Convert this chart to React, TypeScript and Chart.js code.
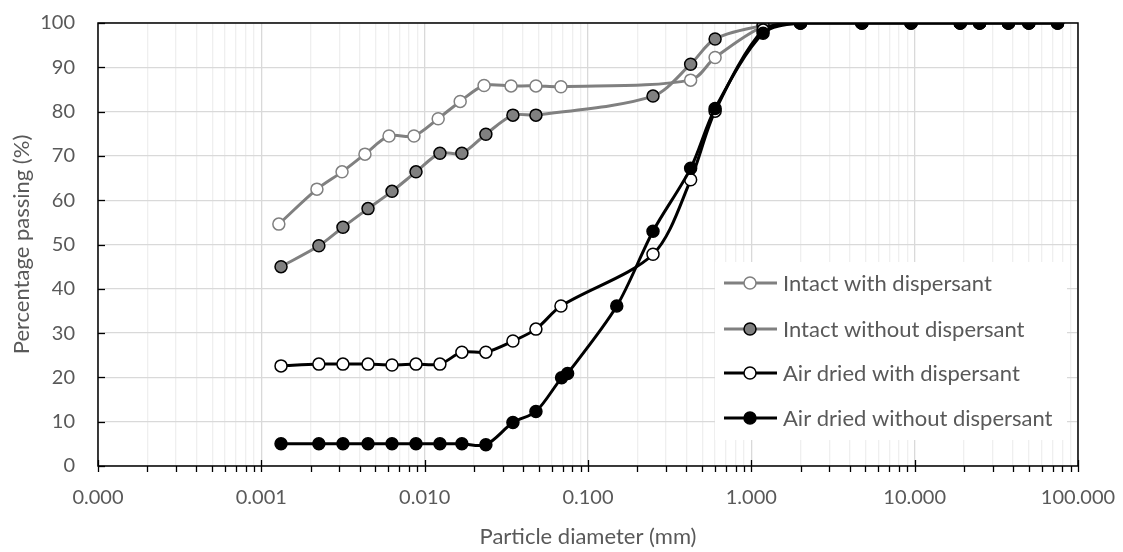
import React, { useEffect, useRef } from 'react';
import { Chart, registerables } from 'chart.js';

Chart.register(...registerables);

// ---------- DATA ----------
const seriesNames = [
  'Intact with dispersant',
  'Intact without dispersant',
  'Air dried with dispersant',
  'Air dried without dispersant',
];

// Intact with dispersant
const intactWithX = [0.00128, 0.00219, 0.00312, 0.00431, 0.00605, 0.0086, 0.0121, 0.0165, 0.0231, 0.0338, 0.048, 0.0683, 0.425, 0.6, 1.18, 2, 4.75, 9.5, 19, 25, 37.5, 50, 75];
const intactWithY = [54.6, 62.5, 66.4, 70.4, 74.5, 74.5, 78.4, 82.3, 85.9, 85.8, 85.8, 85.6, 87.1, 92.2, 99.2, 100, 100, 100, 100, 100, 100, 100, 100];

// Intact without dispersant
const intactWithoutX = [0.00132, 0.00225, 0.00316, 0.0045, 0.00631, 0.00885, 0.0124, 0.0169, 0.0237, 0.0347, 0.048, 0.25, 0.425, 0.6, 1.18, 2, 4.75, 9.5, 19, 25, 37.5, 50, 75];
const intactWithoutY = [45.0, 49.7, 53.9, 58.1, 62.0, 66.4, 70.6, 70.6, 74.9, 79.2, 79.2, 83.5, 90.7, 96.4, 99.4, 100, 100, 100, 100, 100, 100, 100, 100];

// Air dried with dispersant
const airWithX = [0.00132, 0.00225, 0.00316, 0.0045, 0.00631, 0.00885, 0.0124, 0.0169, 0.0237, 0.0347, 0.048, 0.0683, 0.25, 0.425, 0.6, 1.18, 2, 4.75, 9.5, 19, 25, 37.5, 50, 75];
const airWithY = [22.6, 23.0, 23.0, 23.0, 22.8, 23.0, 23.0, 25.7, 25.7, 28.2, 30.9, 36.1, 47.8, 64.6, 80.1, 98.4, 100, 100, 100, 100, 100, 100, 100, 100];

// Air dried without dispersant
const airWithoutX = [0.00132, 0.00225, 0.00316, 0.0045, 0.00631, 0.00885, 0.0124, 0.0169, 0.0237, 0.0347, 0.048, 0.0689, 0.075, 0.15, 0.25, 0.425, 0.6, 1.18, 2, 4.75, 9.5, 19, 25, 37.5, 50, 75];
const airWithoutY = [5.0, 5.0, 5.0, 5.0, 5.0, 5.0, 5.0, 5.0, 4.8, 9.8, 12.3, 19.9, 20.9, 36.1, 53.0, 67.2, 80.7, 97.7, 100, 100, 100, 100, 100, 100, 100, 100];

const xMin = 0.0001;
const xMax = 100;
const yTicks = [0, 10, 20, 30, 40, 50, 60, 70, 80, 90, 100];

// ---------- STYLE ----------
const FONT = 'Lato, "Noto Sans", sans-serif';
const TEXT = '#595959';
const GRAY = '#808080';

const styles = [
  { line: GRAY, fill: '#ffffff', border: GRAY },
  { line: GRAY, fill: GRAY, border: '#000000' },
  { line: '#000000', fill: '#ffffff', border: '#000000' },
  { line: '#000000', fill: '#000000', border: '#000000' },
];

function toPts(xs: number[], ys: number[]) {
  return xs.map((x, i) => ({ x, y: ys[i] }));
}

const isMajor = (v: number) => Math.abs(Math.log10(v) - Math.round(Math.log10(v))) < 1e-6;

function zeroPadding(scale: any) {
  scale.paddingLeft = 0;
  scale.paddingRight = 0;
  scale.paddingTop = 0;
  scale.paddingBottom = 0;
}

const framePlugin = {
  id: 'frameAndLegend',
  afterDatasetsDraw(chart: any) {
    const { ctx, chartArea: a, scales } = chart;
    const xs = scales.x;
    const ys = scales.y;
    ctx.save();
    // frame
    ctx.strokeStyle = '#000000';
    ctx.lineWidth = 1.5;
    ctx.strokeRect(a.left, a.top, a.right - a.left, a.bottom - a.top);
    // x ticks
    ctx.lineWidth = 1.3;
    xs.ticks.forEach((t: any) => {
      const px = Math.round(xs.getPixelForValue(t.value)) + 0.5;
      ctx.beginPath();
      ctx.moveTo(px, isMajor(t.value) ? a.bottom - 6 : a.bottom);
      ctx.lineTo(px, a.bottom + 6);
      ctx.stroke();
    });
    // y ticks (inside)
    yTicks.forEach((v) => {
      const py = Math.round(ys.getPixelForValue(v)) + 0.5;
      ctx.beginPath();
      ctx.moveTo(a.left, py);
      ctx.lineTo(a.left + 7, py);
      ctx.stroke();
    });

    // legend
    const lx = 715, ly = 262, lw = 352, lh = 178;
    ctx.fillStyle = '#ffffff';
    ctx.fillRect(lx, ly, lw, lh);
    const rows = [283, 329, 373, 418];
    seriesNames.forEach((name, i) => {
      const st = styles[i];
      const y = rows[i];
      ctx.strokeStyle = st.line;
      ctx.lineWidth = 3;
      ctx.beginPath();
      ctx.moveTo(724, y);
      ctx.lineTo(777, y);
      ctx.stroke();
      ctx.beginPath();
      ctx.arc(750, y, 6, 0, Math.PI * 2);
      ctx.fillStyle = st.fill;
      ctx.fill();
      ctx.lineWidth = 1.5;
      ctx.strokeStyle = st.border;
      ctx.stroke();
      ctx.fillStyle = TEXT;
      ctx.font = `22px ${FONT}`;
      ctx.textAlign = 'left';
      ctx.textBaseline = 'middle';
      ctx.fillText(name, 783, y + 1);
    });
    ctx.restore();
  },
};

export default function App() {
  const ref = useRef<HTMLCanvasElement | null>(null);

  useEffect(() => {
    document.body.style.margin = '0';
    const canvas = ref.current;
    if (!canvas) return;

    const sets = [
      toPts(intactWithX, intactWithY),
      toPts(intactWithoutX, intactWithoutY),
      toPts(airWithX, airWithY),
      toPts(airWithoutX, airWithoutY),
    ];

    const chart = new Chart(canvas, {
      type: 'line',
      data: {
        datasets: sets.map((d, i) => ({
          label: seriesNames[i],
          data: d,
          borderColor: styles[i].line,
          borderWidth: 3,
          pointRadius: 6,
          pointHoverRadius: 6,
          pointBackgroundColor: styles[i].fill,
          pointBorderColor: styles[i].border,
          pointBorderWidth: 1.5,
          tension: 0.3,
          fill: false,
          order: 3 - i,
        })),
      },
      options: {
        responsive: false,
        animation: false,
        events: [],
        layout: { padding: { top: 23, right: 45, bottom: 0, left: 0 } },
        plugins: {
          legend: { display: false },
          tooltip: { enabled: false },
        },
        scales: {
          x: {
            type: 'logarithmic',
            min: xMin,
            max: xMax,
            afterBuildTicks: (scale: any) => {
              const ticks: any[] = [];
              for (let e = -4; e <= 2; e++) {
                for (let m = 1; m <= 9; m++) {
                  const v = m * Math.pow(10, e);
                  if (v > xMax * 1.0001) break;
                  ticks.push({ value: v });
                }
              }
              scale.ticks = ticks;
            },
            afterFit: (scale: any) => {
              scale.height = 552 - 466;
              zeroPadding(scale);
            },
            ticks: {
              autoSkip: false,
              maxRotation: 0,
              minRotation: 0,
              padding: 20,
              color: TEXT,
              font: { family: FONT, size: 20 },
              callback: (v: any) => (isMajor(Number(v)) ? Number(v).toFixed(3) : ''),
            },
            grid: {
              drawTicks: false,
              color: (c: any) => (c.tick && isMajor(c.tick.value) ? '#d9d9d9' : '#efefef'),
              lineWidth: 1.3,
            },
            border: { display: false },
            title: {
              display: true,
              text: 'Particle diameter (mm)',
              color: TEXT,
              font: { family: FONT, size: 22 },
              padding: { top: 0, bottom: 2 },
            },
          },
          y: {
            type: 'linear',
            min: 0,
            max: 100,
            afterBuildTicks: (scale: any) => {
              scale.ticks = yTicks.map((v) => ({ value: v }));
            },
            afterFit: (scale: any) => {
              scale.width = 98;
              zeroPadding(scale);
            },
            ticks: {
              padding: 23,
              color: TEXT,
              font: { family: FONT, size: 20 },
            },
            grid: {
              drawTicks: false,
              color: '#d9d9d9',
              lineWidth: 1.3,
            },
            border: { display: false },
            title: {
              display: true,
              text: 'Percentage passing (%)',
              color: TEXT,
              font: { family: FONT, size: 22 },
              padding: { top: 9, bottom: 0 },
            },
          },
        },
      },
      plugins: [framePlugin],
    });

    return () => chart.destroy();
  }, []);

  return (
    <div style={{ width: 1123, height: 552 }}>
      <canvas ref={ref} width={1123} height={552} style={{ display: 'block', width: 1123, height: 552 }} />
    </div>
  );
}
